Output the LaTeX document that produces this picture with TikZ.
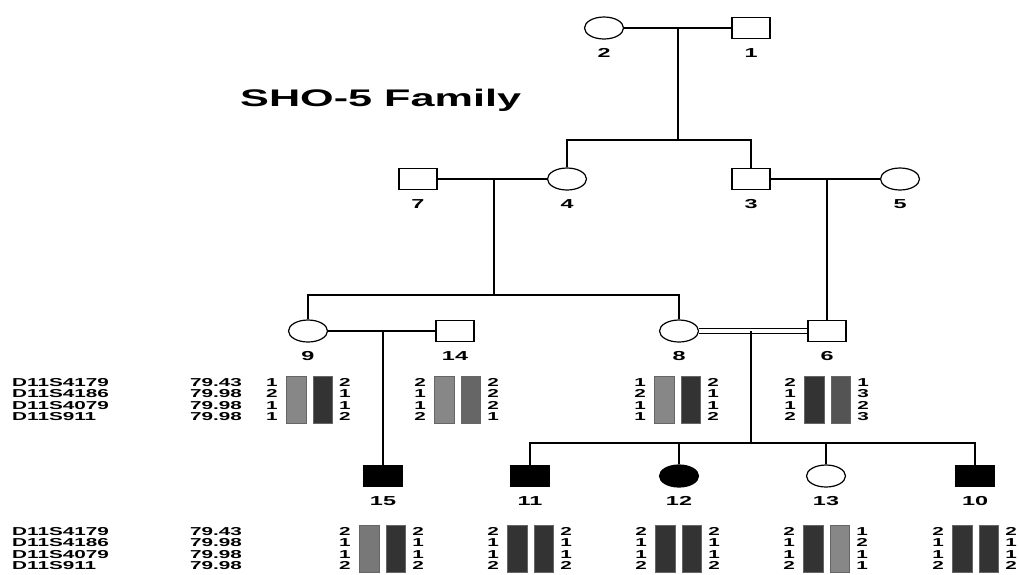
\documentclass[tikz,border=0pt]{standalone}
\usepackage{fontspec}
\setmainfont{Liberation Sans}
\usepackage{graphicx}
\usetikzlibrary{shapes.geometric}
\newcommand{\wide}[1]{\scalebox{1.8}[1]{#1}}
\tikzset{
  ped/.style = {line width=1.2pt},
  male/.style = {draw, line width=1.2pt, rectangle, minimum width=38pt, minimum height=21pt, inner sep=0pt},
  female/.style = {draw, line width=1.2pt, ellipse, minimum width=39pt, minimum height=22pt, inner sep=0pt},
  malefill/.style = {male, fill=black},
  femalefill/.style = {female, fill=black},
  tag/.style = {font=\bfseries\fontsize{13}{13}\selectfont, inner sep=0pt},
  title/.style = {font=\bfseries\fontsize{24}{24}\selectfont, inner sep=0pt, anchor=base west},
  allele/.style = {font=\bfseries\fontsize{11.5}{11.5}\selectfont, inner sep=0pt},
  marker/.style = {font=\bfseries\fontsize{11.5}{11.5}\selectfont, inner sep=0pt, anchor=west},
  bar/.style = {draw=black!60, line width=0.4pt}
}
\begin{document}
\begin{tikzpicture}[x=1pt, y=-1pt]
  \useasboundingbox (0,0) rectangle (1019,574);
  \node[title] (title) at (240,106) {\wide{SHO-5 Family}};
  % people: number/x/y/symbol
  \foreach \n/\x/\y/\s in {1/751/28/male, 2/604/28/female,
      7/418/179/male, 4/567/179/female, 3/751/179/male, 5/900/179/female,
      9/308/331/female, 14/455/331/male, 8/679/331/female, 6/827/331/male,
      15/383/476/malefill, 11/530/476/malefill, 12/679/476/femalefill,
      13/826/476/female, 10/975/476/malefill}
  {
    \node[tag] (t\n) at (\x,{\y+25}) {\wide{\n}};
    \node[\s] (p\n) at (\x,\y) {};
  }
  % marriages and lines of descent
  \coordinate (m12) at (678,28);
  \coordinate (s12) at (678,140);
  \coordinate (m74) at (494,179);
  \coordinate (s74) at (494,295);
  \coordinate (m35) at (827,179);
  \coordinate (m914) at (383,331);
  \coordinate (m86) at (751,331);
  \coordinate (s86) at (751,443);
  \draw[ped] (p2) -- (p1);
  \draw[ped] (m12) -- (s12);
  \draw[ped] (p4.north) |- (s12) -| (p3.north);
  \draw[ped] (p7) -- (p4);
  \draw[ped] (p3) -- (p5);
  \draw[ped] (m74) -- (s74);
  \draw[ped] (p9.north) |- (s74) -| (p8.north);
  \draw[ped] (m35) -- (p6.north);
  \draw[ped] (p9) -- (p14);
  \draw[ped] (m914) -- (p15.north);
  \draw[ped, double, double distance=4.4pt] (p8) -- (p6);
  \draw[ped] (m86) -- (s86);
  \draw[ped] (p11.north) |- (s86) -| (p10.north);
  \draw[ped] (p12.north) -- (p12.north |- s86);
  \draw[ped] (p13.north) -- (p13.north |- s86);
  % markers
  \foreach \mk [count=\k] in {D11S4179,D11S4186,D11S4079,D11S911}
  {
    \node[marker] (mk\k) at (12,{382.5+11.3*(\k-1)}) {\wide{\mk}};
    \node[marker] (mb\k) at (12,{531.5+11.3*(\k-1)}) {\wide{\mk}};
  }
  \foreach \cm [count=\k] in {79.43,79.98,79.98,79.98}
  {
    \node[marker] (ck\k) at (190,{382.5+11.3*(\k-1)}) {\wide{\cm}};
    \node[marker] (cb\k) at (190,{531.5+11.3*(\k-1)}) {\wide{\cm}};
  }
  % haplotypes: id, left x, top y, alleles, alleles, colours
  \def\haplo#1#2#3#4#5#6#7{
    \draw[bar, fill=#6] ({#2+14},#3) rectangle ({#2+34},{#3+47});
    \draw[bar, fill=#7] ({#2+41},#3) rectangle ({#2+60},{#3+47});
    \foreach \v [count=\k] in {#4}
      \node[allele] (#1l\k) at (#2,{#3+6.5+11.3*(\k-1)}) {\wide{\v}};
    \foreach \v [count=\k] in {#5}
      \node[allele] (#1r\k) at ({#2+73},{#3+6.5+11.3*(\k-1)}) {\wide{\v}};
  }
  \haplo{h9}{272}{376}{1,2,1,1}{2,1,1,2}{black!47}{black!80}
  \haplo{h14}{420}{376}{2,1,1,2}{2,2,2,1}{black!47}{black!60}
  \haplo{h8}{640}{376}{1,2,1,1}{2,1,1,2}{black!47}{black!80}
  \haplo{h6}{790}{376}{2,1,1,2}{1,3,2,3}{black!80}{black!67}
  \haplo{h15}{345}{525}{2,1,1,2}{2,1,1,2}{black!53}{black!80}
  \haplo{h11}{493}{525}{2,1,1,2}{2,1,1,2}{black!80}{black!80}
  \haplo{h12}{641}{525}{2,1,1,2}{2,1,1,2}{black!80}{black!80}
  \haplo{h13}{789}{525}{2,1,1,2}{1,2,1,1}{black!80}{black!47}
  \haplo{h10}{938}{525}{2,1,1,2}{2,1,1,2}{black!80}{black!80}
\end{tikzpicture}
\end{document}
